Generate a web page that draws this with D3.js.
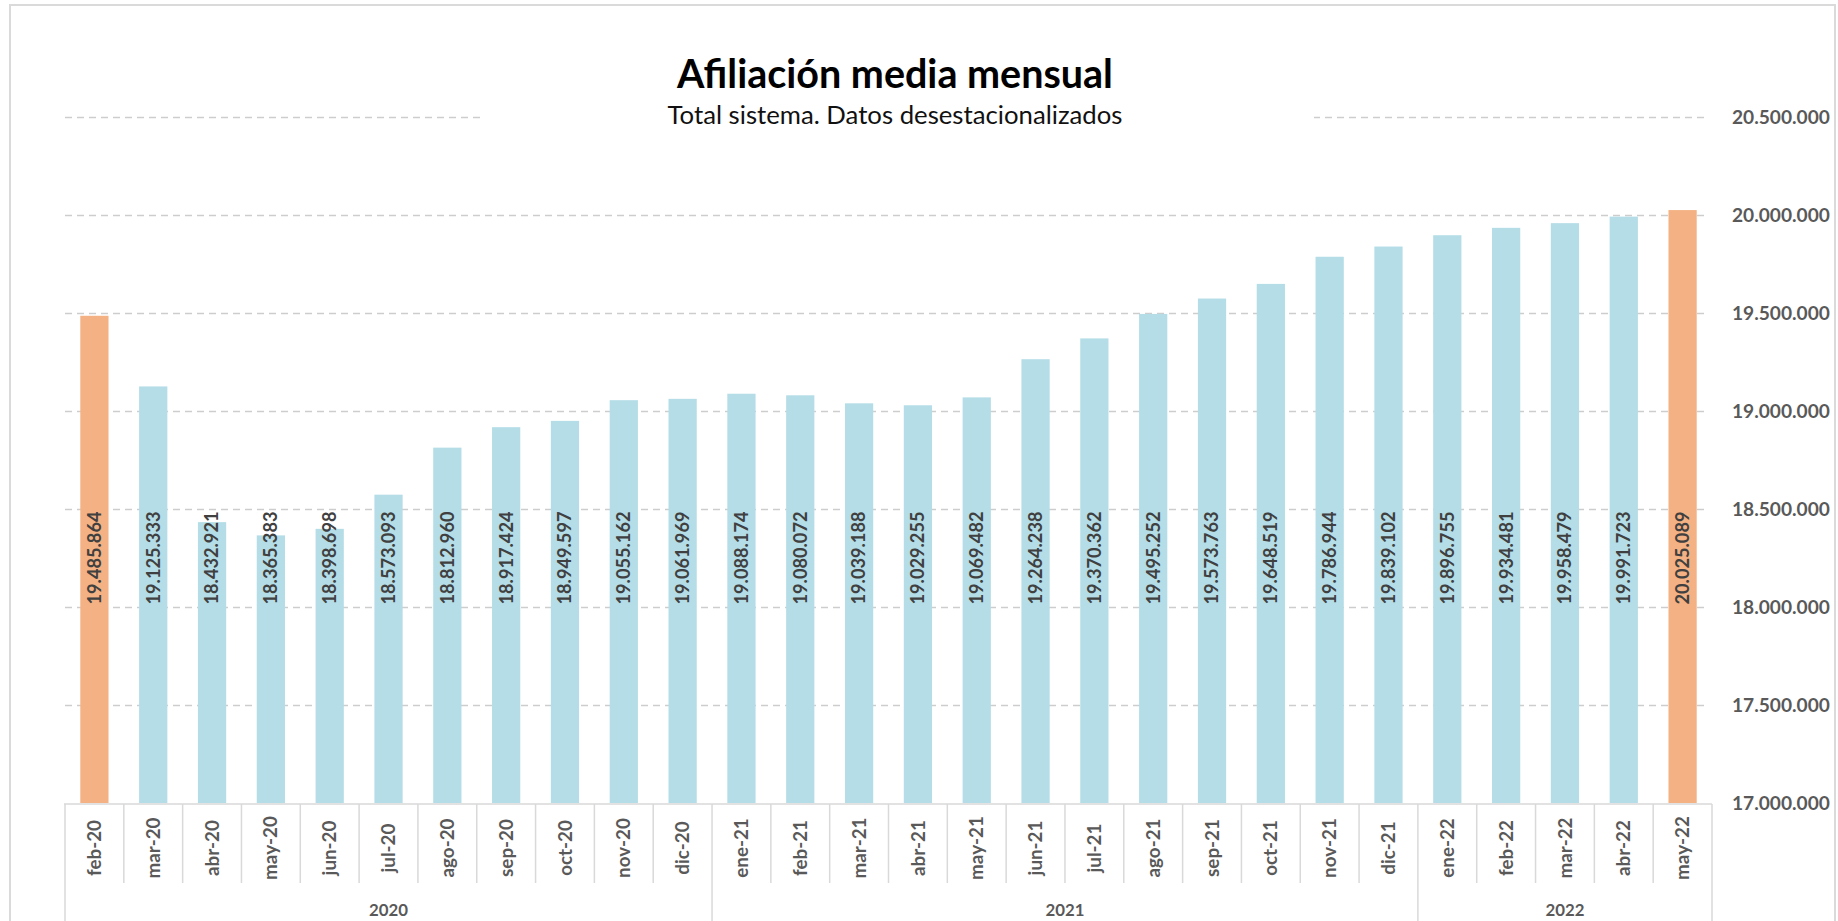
<!DOCTYPE html>
<html><head><meta charset="utf-8">
<script src="https://cdn.jsdelivr.net/npm/d3@7"></script>
<style>html,body{margin:0;padding:0;background:#fff;overflow:hidden}</style>
</head><body>
<svg id="c" width="1838" height="921"></svg>
<script>
// ---- data ----
const categories = ["feb-20","mar-20","abr-20","may-20","jun-20","jul-20","ago-20","sep-20","oct-20","nov-20","dic-20",
  "ene-21","feb-21","mar-21","abr-21","may-21","jun-21","jul-21","ago-21","sep-21","oct-21","nov-21","dic-21",
  "ene-22","feb-22","mar-22","abr-22","may-22"];
const values = [19485864,19125333,18432921,18365383,18398698,18573093,18812960,18917424,18949597,19055162,19061969,
  19088174,19080072,19039188,19029255,19069482,19264238,19370362,19495252,19573763,19648519,19786944,19839102,
  19896755,19934481,19958479,19991723,20025089];
const years = ["2020","2021","2022"];
const yTicks = [17000000,17500000,18000000,18500000,19000000,19500000,20000000,20500000];
const titleText = "Afiliación media mensual";
const subtitleText = "Total sistema. Datos desestacionalizados";

// ---- setup ----
const svg = d3.select("#c");
const FONT = "Lato, 'Open Sans', sans-serif";
const x = d3.scaleBand().domain(categories).range([65, 1712]).padding(0);
const y = d3.scaleLinear().domain([17000000, 20500000]).range([803, 117]);
const loc = d3.formatLocale({decimal: ",", thousands: ".", grouping: [3], currency: ["", "€"]});
const fmt = loc.format(",d");
const n = categories.length;

function fitAll(sel, sampleNode, target) {
  const fs = parseFloat(sampleNode.getAttribute("font-size"));
  const w = sampleNode.getComputedTextLength();
  sel.attr("font-size", fs * target / w);
}

// frame
svg.append("rect").attr("x", 10).attr("y", 5).attr("width", 1825).attr("height", 940)
  .attr("fill", "#fff").attr("stroke", "#dadada").attr("stroke-width", 2);

// gridlines + y labels
const gAxis = svg.append("g").attr("transform", "translate(65,0)")
  .call(d3.axisRight(y).tickValues(yTicks).tickSize(1643).tickPadding(24).tickFormat(fmt));
gAxis.select(".domain").remove();
gAxis.selectAll(".tick line").attr("stroke", "#cdcdcd").attr("stroke-width", 1.5)
  .attr("stroke-dasharray", "7,5")
  .attr("opacity", d => d === 17000000 ? 0 : 1);
const tickText = gAxis.selectAll(".tick text").attr("font-family", FONT).attr("font-weight", "bold")
  .attr("fill", "#595959").attr("font-size", 20);
fitAll(tickText, tickText.nodes()[0], 98);

// title box covering gridline
svg.append("rect").attr("x", 481).attr("y", 45).attr("width", 833).attr("height", 90).attr("fill", "#fff");
const title = svg.append("text").attr("x", 895).attr("y", 88).attr("text-anchor", "middle")
  .attr("font-family", FONT).attr("font-weight", "bold").attr("font-size", 30).attr("fill", "#000").text(titleText);
fitAll(title, title.node(), 436);
const sub = svg.append("text").attr("x", 895).attr("y", 124).attr("text-anchor", "middle")
  .attr("font-family", FONT).attr("font-size", 22).attr("fill", "#111").text(subtitleText);
fitAll(sub, sub.node(), 455);

// bars
const barW = x.bandwidth() * 0.48;
svg.append("g").selectAll("rect").data(categories).join("rect")
  .attr("x", (d) => x(d) + (x.bandwidth() - barW) / 2)
  .attr("y", (d, i) => y(values[i]))
  .attr("width", barW)
  .attr("height", (d, i) => y(17000000) - y(values[i]))
  .attr("fill", (d, i) => (i === 0 || i === n - 1) ? "#f4b183" : "#b4dde7");

// value labels
const labelCenterY = y(18250000);
const vl = svg.append("g").selectAll("text").data(categories).join("text")
  .attr("transform", d => `translate(${x(d) + x.bandwidth() / 2},${labelCenterY}) rotate(-90)`)
  .attr("text-anchor", "middle").attr("dy", "0.35em")
  .attr("font-family", FONT).attr("font-weight", "bold").attr("font-size", 18).attr("fill", "#404040")
  .text((d, i) => fmt(values[i]));
fitAll(vl, vl.nodes()[0], 93);

// x axis line
const axisY = y(17000000);
svg.append("line").attr("x1", 64).attr("x2", 1712).attr("y1", axisY + 1).attr("y2", axisY + 1)
  .attr("stroke", "#d9d9d9").attr("stroke-width", 1.5);

// year groups
const yearCounts = years.map(yr => categories.filter(c => "20" + c.slice(-2) === yr).length);
const yearStarts = [];
let acc = 0;
yearCounts.forEach(c => { yearStarts.push(acc); acc += c; });
const boundaryIdx = new Set([...yearStarts, n]);

// separators
const sepG = svg.append("g");
for (let i = 0; i <= n; i++) {
  const xx = i < n ? x(categories[i]) : x(categories[n - 1]) + x.bandwidth();
  sepG.append("line").attr("x1", xx).attr("x2", xx).attr("y1", axisY + 1)
    .attr("y2", boundaryIdx.has(i) ? 925 : 883)
    .attr("stroke", "#d9d9d9").attr("stroke-width", 1.5);
}

// category labels
const cl = svg.append("g").selectAll("text").data(categories).join("text")
  .attr("transform", d => `translate(${x(d) + x.bandwidth() / 2},848) rotate(-90)`)
  .attr("text-anchor", "middle").attr("dy", "0.35em")
  .attr("font-family", FONT).attr("font-size", 18).attr("fill", "#595959").attr("font-weight", "bold")
  .text(d => d);
fitAll(cl, cl.nodes()[1], 61);

// year labels
const yl = svg.append("g").selectAll("text").data(years).join("text")
  .attr("x", (d, i) => {
    const s = x(categories[yearStarts[i]]);
    const e = x(categories[yearStarts[i] + yearCounts[i] - 1]) + x.bandwidth();
    return (s + e) / 2;
  })
  .attr("y", 916).attr("text-anchor", "middle")
  .attr("font-family", FONT).attr("font-size", 18).attr("fill", "#595959").attr("font-weight", "bold")
  .text(d => d);
fitAll(yl, yl.nodes()[2], 39);
</script>
</body></html>
